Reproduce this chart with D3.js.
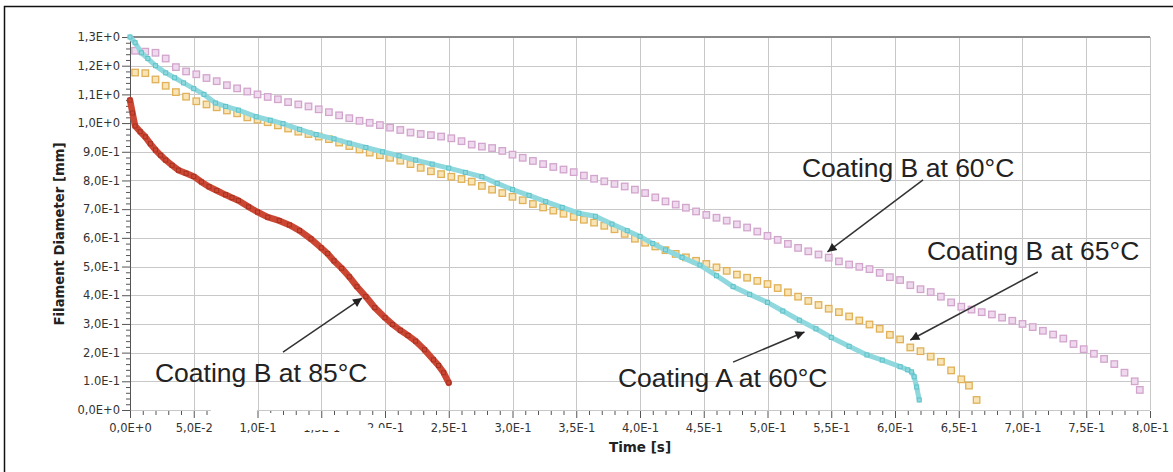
<!DOCTYPE html>
<html><head><meta charset="utf-8">
<script src="https://cdn.jsdelivr.net/npm/d3@7"></script>
<style>html,body{margin:0;padding:0;background:#fff;}svg{display:block;}</style>
</head><body>
<script>
// ---------- DATA ----------
const xTickValues = [0,0.05,0.1,0.15,0.2,0.25,0.3,0.35,0.4,0.45,0.5,0.55,0.6,0.65,0.7,0.75,0.8];
const xTickLabels = ["0,0E+0","5,0E-2","1,0E-1","1,5E-1","2,0E-1","2,5E-1","3,0E-1","3,5E-1","4,0E-1","4,5E-1","5,0E-1","5,5E-1","6,0E-1","6,5E-1","7,0E-1","7,5E-1","8,0E-1"];
const yTickValues = [0,0.1,0.2,0.3,0.4,0.5,0.6,0.7,0.8,0.9,1.0,1.1,1.2,1.3];
const yTickLabels = ["0,0E+0","1.0E-1","2,0E-1","3,0E-1","4,0E-1","5,0E-1","6,0E-1","7,0E-1","8,0E-1","9,0E-1","1,0E+0","1,1E+0","1,2E+0","1,3E+0"];

// Coating B at 85°C (dense markers)
const b85Time = [0,0.002,0.004,0.008,0.012,0.016,0.02,0.024,0.028,0.033,0.038,0.044,0.05,0.056,0.062,0.068,0.075,0.08,0.085,0.093,0.1,0.108,0.117,0.125,0.133,0.142,0.15,0.155,0.16,0.166,0.172,0.178,0.185,0.192,0.2,0.206,0.212,0.218,0.224,0.231,0.238,0.242,0.246,0.25];
const b85Diam = [1.08,1.035,0.99,0.97,0.952,0.928,0.906,0.888,0.871,0.853,0.836,0.825,0.814,0.795,0.778,0.765,0.75,0.74,0.73,0.708,0.69,0.672,0.66,0.645,0.625,0.596,0.565,0.545,0.52,0.494,0.464,0.43,0.395,0.357,0.322,0.298,0.278,0.26,0.24,0.21,0.175,0.155,0.13,0.095];

// Coating A at 60°C (dense markers)
const a60Time = [0,0.004,0.009,0.014,0.02,0.028,0.035,0.042,0.05,0.058,0.067,0.075,0.085,0.099,0.11,0.12,0.133,0.146,0.16,0.172,0.185,0.198,0.211,0.224,0.237,0.25,0.263,0.276,0.288,0.3,0.313,0.326,0.339,0.352,0.365,0.378,0.39,0.4,0.41,0.42,0.433,0.447,0.46,0.473,0.486,0.5,0.512,0.525,0.538,0.55,0.564,0.578,0.59,0.604,0.61,0.613,0.615,0.617,0.619];
const a60Diam = [1.3,1.28,1.245,1.225,1.2,1.175,1.158,1.14,1.12,1.1,1.07,1.058,1.045,1.022,1.01,0.998,0.978,0.96,0.945,0.93,0.915,0.9,0.886,0.871,0.857,0.843,0.828,0.813,0.79,0.768,0.748,0.726,0.706,0.686,0.675,0.648,0.625,0.605,0.58,0.558,0.532,0.505,0.468,0.43,0.403,0.375,0.345,0.313,0.283,0.253,0.222,0.192,0.174,0.151,0.14,0.133,0.116,0.08,0.035];

// Coating B at 60°C (spaced markers)
const b60Time = [0.004,0.012,0.02,0.028,0.036,0.044,0.052,0.06,0.068,0.076,0.084,0.092,0.1,0.108,0.116,0.124,0.132,0.14,0.148,0.156,0.164,0.172,0.18,0.188,0.196,0.204,0.212,0.22,0.228,0.236,0.244,0.252,0.26,0.268,0.276,0.284,0.292,0.3,0.308,0.316,0.324,0.332,0.34,0.348,0.356,0.364,0.372,0.38,0.388,0.396,0.404,0.412,0.42,0.428,0.436,0.444,0.452,0.46,0.468,0.476,0.484,0.492,0.5,0.508,0.516,0.524,0.532,0.54,0.548,0.556,0.564,0.572,0.58,0.588,0.596,0.604,0.612,0.62,0.628,0.636,0.644,0.652,0.66,0.668,0.676,0.684,0.692,0.7,0.708,0.716,0.724,0.732,0.74,0.748,0.756,0.764,0.772,0.78,0.788,0.792];
const b60Diam = [1.252,1.249,1.245,1.225,1.195,1.18,1.17,1.157,1.146,1.132,1.121,1.11,1.1,1.091,1.083,1.073,1.065,1.058,1.048,1.038,1.027,1.017,1.008,1.001,0.993,0.984,0.976,0.967,0.962,0.958,0.953,0.947,0.937,0.925,0.918,0.913,0.903,0.89,0.879,0.868,0.857,0.847,0.838,0.829,0.817,0.806,0.797,0.788,0.779,0.768,0.756,0.741,0.727,0.716,0.705,0.692,0.68,0.67,0.66,0.647,0.636,0.622,0.607,0.593,0.579,0.565,0.553,0.542,0.531,0.518,0.507,0.499,0.491,0.478,0.463,0.453,0.435,0.421,0.411,0.395,0.375,0.36,0.35,0.341,0.333,0.322,0.311,0.3,0.289,0.276,0.263,0.249,0.23,0.212,0.196,0.178,0.16,0.13,0.1,0.07];

// Coating B at 65°C (spaced markers)
const b65Time = [0.004,0.012,0.02,0.028,0.036,0.044,0.052,0.06,0.068,0.076,0.084,0.092,0.1,0.108,0.116,0.124,0.132,0.14,0.148,0.156,0.164,0.172,0.18,0.188,0.196,0.204,0.212,0.22,0.228,0.236,0.244,0.252,0.26,0.268,0.276,0.284,0.292,0.3,0.308,0.316,0.324,0.332,0.34,0.348,0.356,0.364,0.372,0.38,0.388,0.396,0.404,0.412,0.42,0.428,0.436,0.444,0.452,0.46,0.468,0.476,0.484,0.492,0.5,0.508,0.516,0.524,0.532,0.54,0.548,0.556,0.564,0.572,0.58,0.588,0.596,0.604,0.612,0.62,0.628,0.636,0.644,0.652,0.658,0.664];
const b65Diam = [1.176,1.174,1.152,1.13,1.108,1.092,1.076,1.065,1.055,1.044,1.034,1.02,1.012,1.003,0.992,0.981,0.97,0.962,0.953,0.944,0.932,0.92,0.908,0.897,0.888,0.879,0.869,0.857,0.844,0.832,0.822,0.813,0.805,0.796,0.781,0.768,0.756,0.743,0.731,0.718,0.706,0.695,0.684,0.673,0.663,0.653,0.642,0.63,0.614,0.597,0.583,0.57,0.557,0.544,0.532,0.52,0.509,0.497,0.485,0.472,0.461,0.45,0.439,0.425,0.41,0.395,0.38,0.366,0.353,0.341,0.326,0.312,0.298,0.283,0.262,0.246,0.218,0.205,0.186,0.168,0.138,0.107,0.085,0.035];

// annotations: label, text anchor, arrow tail, arrow tip (data units)
const annLabels = ["Coating B at 85°C","Coating A at 60°C","Coating B at 60°C","Coating B at 65°C"];
const annText = [[0.0196,0.099],[0.3827,0.081],[0.527,0.813],[0.625,0.523]];
const annTail = [[0.12,0.202],[0.473,0.167],[0.622,0.802],[0.712,0.481]];
const annTip  = [[0.182,0.39],[0.529,0.272],[0.547,0.551],[0.612,0.244]];

// ---------- DRAW ----------
const W = 1173, H = 472;
const svg = d3.select("body").append("svg").attr("width", W).attr("height", H);
svg.append("rect").attr("width", W).attr("height", H).attr("fill", "#fff");
// outer frame (only top & left visible)
svg.append("rect").attr("x", 4.5).attr("y", 6.5).attr("width", W + 20).attr("height", H + 20)
  .attr("fill", "none").attr("stroke", "#111").attr("stroke-width", 1.5);

const x = d3.scaleLinear().domain([0, 0.8]).range([130, 1150]);
const y = d3.scaleLinear().domain([0, 1.3]).range([410, 37]);

// grid
const grid = svg.append("g");
grid.selectAll("line.v").data(xTickValues).join("line")
  .attr("x1", d => Math.round(x(d)) + 0.5).attr("x2", d => Math.round(x(d)) + 0.5)
  .attr("y1", y(1.3)).attr("y2", y(0)).attr("stroke", "#c8c8c8").attr("stroke-width", 1);
grid.selectAll("line.h").data(yTickValues).join("line")
  .attr("y1", d => Math.round(y(d)) + 0.5).attr("y2", d => Math.round(y(d)) + 0.5)
  .attr("x1", x(0)).attr("x2", x(0.8)).attr("stroke", "#c8c8c8").attr("stroke-width", 1);
// top border
svg.append("line").attr("x1", x(0)).attr("x2", x(0.8)).attr("y1", y(1.3)).attr("y2", y(1.3))
  .attr("stroke", "#8a8a8a").attr("stroke-width", 2);

// x axis
const xMinor = d3.range(0, 80.5, 1).map(v => v / 100).filter(v => Math.round(v * 100) % 5 !== 0);
const xMinorAxis = svg.append("g").attr("transform", `translate(0,${y(0) + 1})`)
  .call(d3.axisBottom(x).tickValues(xMinor).tickSize(4).tickFormat(""));
xMinorAxis.select(".domain").remove();
xMinorAxis.selectAll("line").attr("stroke", "#555");
const xAxis = svg.append("g").attr("transform", `translate(0,${y(0) + 1})`)
  .call(d3.axisBottom(x).tickValues(xTickValues).tickSize(7).tickPadding(6)
    .tickFormat((d, i) => xTickLabels[i]));
xAxis.select(".domain").remove();
xAxis.selectAll("line").attr("stroke", "#555");
xAxis.selectAll("text").attr("font-family", "DejaVu Sans").attr("font-size", 11.5).attr("fill", "#333");

// y axis
const yMinor = d3.range(0, 130.5, 2).map(v => v / 100).filter(v => Math.round(v * 100) % 10 !== 0);
const yMinorAxis = svg.append("g").attr("transform", `translate(${x(0)},0)`)
  .call(d3.axisLeft(y).tickValues(yMinor).tickSize(4).tickFormat(""));
yMinorAxis.select(".domain").remove();
yMinorAxis.selectAll("line").attr("stroke", "#555");
const yAxis = svg.append("g").attr("transform", `translate(${x(0)},0)`)
  .call(d3.axisLeft(y).tickValues(yTickValues).tickSize(8).tickPadding(2)
    .tickFormat((d, i) => yTickLabels[i]));
yAxis.select(".domain").attr("stroke", "#555");
yAxis.selectAll("line").attr("stroke", "#555");
yAxis.selectAll("text").attr("font-family", "DejaVu Sans").attr("font-size", 11.5).attr("fill", "#333");

// axis titles
svg.append("text").attr("x", (x(0) + x(0.8)) / 2).attr("y", 452).attr("text-anchor", "middle")
  .attr("font-family", "DejaVu Sans").attr("font-weight", "bold").attr("font-size", 13.5).attr("fill", "#222")
  .text("Time [s]");
svg.append("text").attr("transform", "translate(64,234) rotate(-90)").attr("text-anchor", "middle")
  .attr("font-family", "DejaVu Sans").attr("font-weight", "bold").attr("font-size", 13.2).attr("fill", "#222")
  .text("Filament Diameter [mm]");

// series
const zip = (ts, ds) => ts.map((t, i) => [t, ds[i]]);
const line = d3.line().x(d => x(d[0])).y(d => y(d[1])).curve(d3.curveLinear);
const plot = svg.append("g");

function squares(data, size, fill, stroke, sw) {
  plot.append("g").selectAll("rect").data(data).join("rect")
    .attr("x", d => x(d[0]) - size / 2).attr("y", d => y(d[1]) - size / 2)
    .attr("width", size).attr("height", size)
    .attr("fill", fill).attr("stroke", stroke).attr("stroke-width", sw);
}

const b60 = zip(b60Time, b60Diam);
squares(b60, 6.5, "#efd9ee", "#d2a5cd", 1.3);

const b65 = zip(b65Time, b65Diam);
squares(b65, 6.5, "#f8e4b4", "#e0b158", 1.3);

const a60 = zip(a60Time, a60Diam);
plot.append("path").datum(a60).attr("d", line).attr("fill", "none")
  .attr("stroke", "#8fd8de").attr("stroke-width", 5).attr("stroke-linejoin", "round").attr("stroke-linecap", "round");
squares(a60, 4, "none", "#5fc3ca", 1);

const b85 = zip(b85Time, b85Diam);
plot.append("path").datum(b85).attr("d", line).attr("fill", "none")
  .attr("stroke", "#cc4733").attr("stroke-width", 6.5).attr("stroke-linejoin", "round").attr("stroke-linecap", "round");
squares(b85, 4, "none", "#a93222", 1);

// scan artefact: hidden part of the axis
svg.append("rect").attr("x", 211).attr("y", 404).attr("width", 46).attr("height", 17).attr("fill", "#fff");
svg.append("rect").attr("x", 260).attr("y", 413).attr("width", 23).attr("height", 8).attr("fill", "#fff");
svg.append("rect").attr("x", 298).attr("y", 419).attr("width", 48).attr("height", 11).attr("fill", "#fff");
svg.append("rect").attr("x", 363).attr("y", 428).attr("width", 29).attr("height", 10).attr("fill", "#fff");

// annotations
const defs = svg.append("defs");
defs.append("marker").attr("id", "ah").attr("viewBox", "0 0 10 10").attr("refX", 10).attr("refY", 5)
  .attr("markerWidth", 12).attr("markerHeight", 9).attr("markerUnits", "userSpaceOnUse").attr("orient", "auto")
  .append("path").attr("d", "M0,0 L10,5 L0,10 z").attr("fill", "#222");
const ann = svg.append("g");
annLabels.forEach((lab, i) => {
  ann.append("line")
    .attr("x1", x(annTail[i][0])).attr("y1", y(annTail[i][1]))
    .attr("x2", x(annTip[i][0])).attr("y2", y(annTip[i][1]))
    .attr("stroke", "#333").attr("stroke-width", 1.5).attr("marker-end", "url(#ah)");
  ann.append("text").attr("x", x(annText[i][0])).attr("y", y(annText[i][1]))
    .attr("font-family", "Liberation Sans, Arial, sans-serif").attr("font-size", 26.5).attr("fill", "#222")
    .text(lab);
});
</script>
</body></html>
